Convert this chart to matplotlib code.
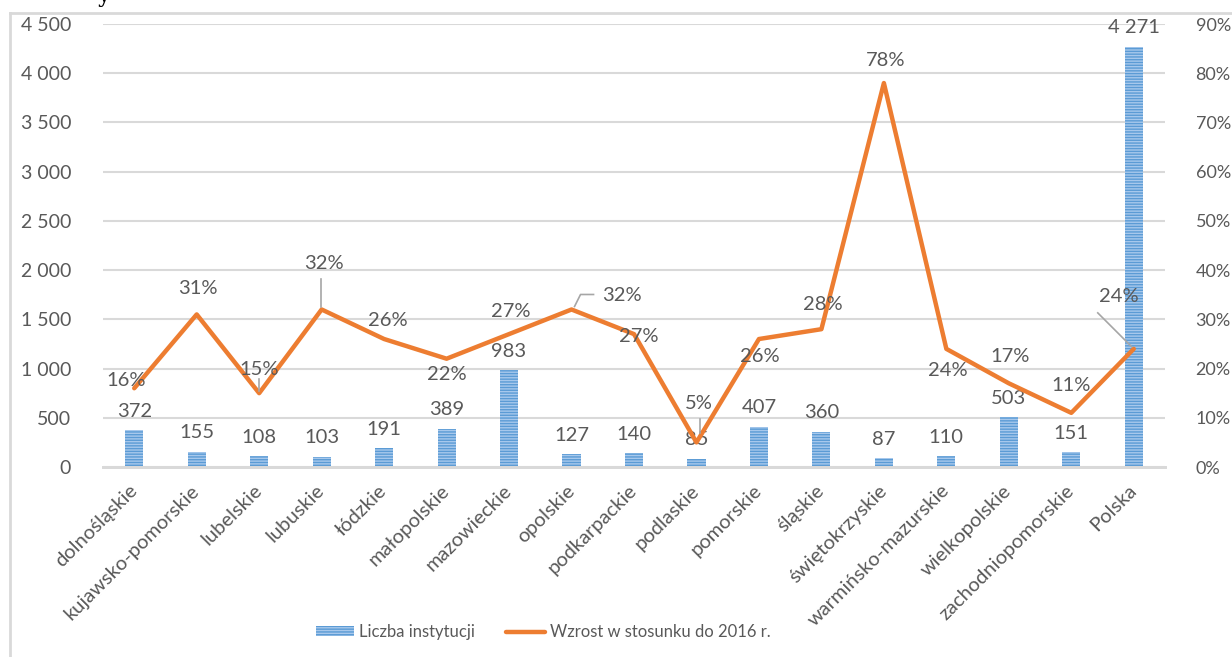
import numpy as np
import matplotlib
matplotlib.use("Agg")
import matplotlib.pyplot as plt
from matplotlib.ticker import FuncFormatter, MultipleLocator

# data
regions = ["dolnośląskie", "kujawsko-pomorskie", "lubelskie", "lubuskie", "łódzkie",
           "małopolskie", "mazowieckie", "opolskie", "podkarpackie", "podlaskie",
           "pomorskie", "śląskie", "świętokrzyskie", "warmińsko-mazurskie",
           "wielkopolskie", "zachodniopomorskie", "Polska"]
institutions = [372, 155, 108, 103, 191, 389, 983, 127, 140, 85, 407, 360, 87, 110, 503, 151, 4271]
growth = [0.16, 0.31, 0.15, 0.32, 0.26, 0.22, 0.27, 0.32, 0.27, 0.05, 0.26, 0.28, 0.78, 0.24, 0.17, 0.11, 0.24]

# label offsets for the % labels (pixels), tuned by eye
pct_off = [(-8, 8), (1, 26), (0, 24), (2, 46), (4, 19), (0, -16), (2, 23), (50, 14), (5, -2),
           (2, 39), (1, -17), (1, 25), (2, 23), (1, -22), (1, 27), (0, 27), (-15, 52)]

plt.rcParams['font.family'] = ['Lato', 'DejaVu Sans']
plt.rcParams['hatch.linewidth'] = 1.0
gray = '#595959'
grid = '#d9d9d9'
fs = 14.5

fig = plt.figure(figsize=(12.32, 6.57), dpi=100)
fig.patch.set_facecolor('w')

# outer frame (only top and left visible)
fig.add_artist(plt.Line2D([10/1232, 10/1232], [0, 1-13/657], color=grid, lw=2, transform=fig.transFigure))
fig.add_artist(plt.Line2D([10/1232, 1], [1-13/657, 1-13/657], color=grid, lw=2, transform=fig.transFigure))
fig.text(98/1232, 1-2/657, 'y', fontsize=16, color='k', va='baseline', family='DejaVu Serif')

ax = fig.add_axes([103/1232, 1-467/657, 1062/1232, 443/657])
ax2 = ax.twinx()

x = np.arange(len(regions))
bars = ax.bar(x, institutions, width=0.29, facecolor='#a7c8ec', edgecolor='#5b9bd5',
              hatch='------', linewidth=0, label='Liczba instytucji', zorder=2)
line, = ax2.plot(x, growth, color='#ed7d31', lw=3.2, solid_capstyle='round',
                 label='Wzrost w stosunku do 2016 r.')

ax.set_xlim(-0.5, len(regions)-0.5)
ax.set_ylim(0, 4500)
ax2.set_ylim(0, 0.9)
ax.yaxis.set_major_locator(MultipleLocator(500))
ax2.yaxis.set_major_locator(MultipleLocator(0.1))
ax.yaxis.set_major_formatter(FuncFormatter(lambda v, p: '{:,.0f}'.format(v).replace(',', ' ')))
ax2.yaxis.set_major_formatter(FuncFormatter(lambda v, p: '{:.0f}%'.format(v*100)))
ax.grid(axis='y', color=grid, lw=1.5, zorder=0)
ax.set_axisbelow(True)

for a in (ax, ax2):
    for s in ['top', 'left', 'right']:
        a.spines[s].set_visible(False)
    a.spines['bottom'].set_color(grid)
    a.spines['bottom'].set_linewidth(2)
    a.tick_params(length=0, labelsize=fs, labelcolor=gray)
ax.tick_params(axis='y', pad=23, labelsize=14)
ax2.tick_params(axis='y', pad=22, labelsize=13)

ax.set_xticks(x)
ax.set_xticklabels(regions, rotation=45, ha='right', va='center', rotation_mode='anchor')
ax.tick_params(axis='x', pad=15)

# bar value labels
for xi, v in zip(x, institutions):
    ax.annotate('{:,}'.format(v).replace(',', ' '), (xi, v), xytext=(0, 19), textcoords='offset pixels',
                ha='center', va='center', fontsize=fs, color=gray)

# % labels
for i, (xi, g) in enumerate(zip(x, growth)):
    dx, dy = pct_off[i]
    ax2.annotate('{:.0f}%'.format(g*100), (xi, g), xytext=(dx, dy), textcoords='offset pixels',
                 ha='center', va='center', fontsize=fs, color=gray, zorder=5)

# leader lines
def leader(i, pts):
    t = ax2.transData.transform((x[i], growth[i]))
    xs = [t[0] + p[0] for p in pts]
    ys = [t[1] + p[1] for p in pts]
    inv = ax2.transData.inverted()
    d = inv.transform(np.column_stack([xs, ys]))
    ax2.plot(d[:, 0], d[:, 1], color='#a6a6a6', lw=1.2, zorder=4)

fig.canvas.draw()
leader(2, [(0, 14), (0, 2)])
leader(3, [(-1, 30), (-1, 2)])
leader(7, [(3, 3), (9, 15), (22, 15)])
leader(9, [(4, 23), (4, 9)])
leader(16, [(-36, 36), (-2, 2)])

handles = [bars, line]
fig.legend(handles, [h.get_label() for h in handles], loc='center', bbox_to_anchor=(543/1232, 1-632/657),
           ncol=2, frameon=False, fontsize=12, labelcolor=gray, handlelength=2.3,
           handletextpad=0.3, columnspacing=1.9, handleheight=0.5)

fig.savefig('out.png', dpi=100)
